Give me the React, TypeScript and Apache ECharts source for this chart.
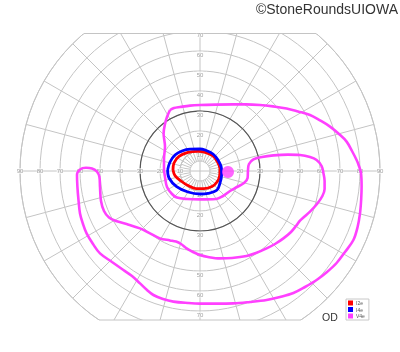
import React, { useEffect, useRef } from "react";
import * as echarts from "echarts";

// Isopters, in degrees of visual field: [x (temporal +), y (superior +)]
const I2E: [number, number][] = [
  [-13.5, 0.5], [-13, 4], [-10.5, 7.3], [-6, 9.3], [-1, 9.8], [3, 9.2], [6.5, 7.5], [8.8, 4.5],
  [10, 1], [9.8, -2.5], [8.5, -5.5], [6, -7.8], [2, -8.8], [-2, -8.8], [-6, -7.3], [-9.5, -5],
  [-12.5, -2.3], [-13.5, 0.5],
];
const I4E: [number, number][] = [
  [-16.2, 0.5], [-15, 4.5], [-12.5, 8], [-9, 10], [-5, 10.9], [0, 11], [2.5, 10.5], [6.5, 8.5],
  [9, 5.5], [10.7, 1.5], [10.8, -2], [10, -6], [8.5, -9.5], [4, -11.2], [0, -11.5], [-6, -10.5],
  [-11.7, -7.8], [-15.5, -3.5], [-16.2, 0.5],
];
const V4E: [number, number][] = [
  [-15, 30.5], [-16.5, 27], [-17.5, 23.5], [-18.2, 18.8], [-17.5, 12.2], [-18, 6], [-18, 1], [-17.5, -3],
  [-16.5, -8], [-14, -11.5], [-11.5, -13.3], [-6.5, -14], [0, -14.2], [8, -14], [11.5, -12.5], [15, -10],
  [18.5, -8], [22, -6], [23.8, -3.5], [24, 0.5], [24.5, 3.5], [26.7, 5.8], [31, 7], [36.7, 7.8],
  [44, 8.2], [50, 8], [55, 7], [58.3, 5.5], [60.8, 2.5], [61.7, -1], [62.3, -5], [62.3, -9],
  [61.2, -12.5], [58.5, -16.5], [55, -20.3], [52, -23], [50, -24.8], [48, -27.5], [45.5, -30.5],
  [41.7, -33.7], [37.5, -36.5], [33.3, -38.7], [28, -41], [23.3, -42.5], [16, -43.5], [10, -43.7],
  [4, -43], [0, -42], [-3.5, -40.5], [-6.7, -38.7], [-9.5, -36.5], [-12, -35.3], [-15, -34.7],
  [-20, -33.7], [-25, -31.2], [-30, -28.7], [-36.7, -26.5], [-42, -25], [-45.5, -23.3], [-48, -20],
  [-49.5, -15], [-50, -8], [-50.3, -3], [-51.5, -0.3], [-54, 1.2], [-57, 1.6], [-60, 0.8], [-61.5, -2],
  [-61.3, -7.8], [-60.8, -14], [-60, -21.2], [-58.5, -26.5], [-56.7, -31.2], [-53.5, -36.5], [-50, -41.2],
  [-44, -45.5], [-38.3, -49.5], [-34, -52.5], [-30, -56.2], [-26.5, -59.5], [-23.3, -62], [-18.5, -64],
  [-13.3, -65.3], [-6, -66], [0, -66.3], [8, -66.3], [16.7, -66.2], [25, -65.5], [33.3, -64.5],
  [40, -63], [46.7, -61], [52.5, -58], [58.3, -54.5], [63.5, -50.5], [68.3, -46], [72.5, -40.5],
  [76.7, -34.5], [78.8, -28], [80, -21.2], [80.6, -14], [80.8, -7.8], [80.5, -1], [79.3, 3], [78.3, 5.5],
  [76, 10], [73.3, 14.7], [69.5, 18.5], [65, 22.2], [60, 25.3], [55, 28], [49, 29.8], [43.3, 31.3],
  [36.5, 32.3], [30, 33], [23, 33.3], [16.7, 33.3], [8, 33.2], [0, 33], [-5, 32.7], [-10, 32],
  [-13, 31.5], [-15, 30.5],
];
const BLIND_SPOT: [number, number][] = [[14, -0.5]];

const SERIES_NAMES = ["I2e", "I4e", "V4e"];
const COLORS = ["#ff0000", "#0000ff", "#ff40ff"];
// Eccentricity labels along the horizontal and vertical meridians
const X_TICKS = [10, 20, 30, 40, 50, 60, 70, 80, 90];
const Y_TICKS = [10, 20, 30, 40, 50, 60, 70];

const CX = 200;
const CY = 171;
const R = 180; // px for 90 degrees
const PX_PER_DEG = R / 90;
const Y_EXT = 85; // vertical extent of the cartesian overlay, degrees
const TOP_CLIP = 33.5;
const BOTTOM_CLIP = 320;

export default function App() {
  const ref = useRef<HTMLDivElement>(null);
  useEffect(() => {
    if (!ref.current) return;
    const chart = echarts.init(ref.current, null, { renderer: "svg" });
    const grey = "#c4c4c4";
    const font = "Liberation Sans";
    const hwTop = Math.sqrt(R * R - (CY - TOP_CLIP) ** 2);
    const hwBot = Math.sqrt(R * R - (BOTTOM_CLIP - CY) ** 2);
    const noAxis = { axisLine: { show: false }, axisTick: { show: false }, axisLabel: { show: false } };
    const lineSeries = (name: string, data: [number, number][], color: string, width: number) => ({
      type: "line",
      name,
      data,
      smooth: 0.35,
      symbol: "none",
      lineStyle: { color, width },
      itemStyle: { color },
      z: 3,
    });
    const tickLabel = {
      show: true,
      fontSize: 6,
      color: "#8a8a8a",
      fontFamily: font,
      backgroundColor: "rgba(255,255,255,0.75)",
      formatter: (p: any) => String(Math.abs(p.value[0] || p.value[1])),
    };
    const xTickData = [...X_TICKS.map((t) => [-t, 0]), ...X_TICKS.map((t) => [t, 0])];
    const yTickData = [...Y_TICKS.map((t) => [0, t]), ...Y_TICKS.map((t) => [0, -t])];
    chart.setOption({
      animation: false,
      polar: [
        { center: [CX, CY], radius: [20, R] },
        { center: [CX, CY], radius: [10, 20] },
        { center: [CX, CY], radius: 60 },
        { center: [CX, CY], radius: 10 },
      ],
      angleAxis: [
        {
          polarIndex: 0, type: "value", min: 0, max: 360, interval: 15, startAngle: 0,
          axisLine: { show: true, lineStyle: { color: grey, width: 1 } },
          axisTick: { show: false }, axisLabel: { show: false },
          splitLine: { show: true, lineStyle: { color: grey, width: 1 } },
        },
        {
          polarIndex: 1, type: "value", min: 0, max: 360, interval: 10, startAngle: 0,
          axisLine: { show: true, lineStyle: { color: grey, width: 1 } },
          axisTick: { show: false }, axisLabel: { show: false },
          splitLine: { show: true, lineStyle: { color: grey, width: 1 } },
        },
        {
          polarIndex: 2, type: "value", min: 0, max: 360, interval: 90, startAngle: 0,
          axisLine: { show: true, lineStyle: { color: "#555", width: 1.2 } },
          axisTick: { show: false }, axisLabel: { show: false },
          splitLine: { show: false },
        },
        {
          polarIndex: 3, type: "value", min: 0, max: 360, interval: 90, startAngle: 0,
          axisLine: { show: false },
          axisTick: { show: false }, axisLabel: { show: false },
          splitLine: { show: true, lineStyle: { color: grey, width: 1 } },
        },
      ],
      radiusAxis: [
        {
          polarIndex: 0, type: "value", min: 10, max: 90, interval: 10, ...noAxis,
          splitLine: { show: true, lineStyle: { color: grey, width: 1 } },
        },
        { polarIndex: 1, type: "value", min: 0, max: 1, ...noAxis, splitLine: { show: false } },
        { polarIndex: 2, type: "value", min: 0, max: 1, ...noAxis, splitLine: { show: false } },
        { polarIndex: 3, type: "value", min: 0, max: 1, ...noAxis, splitLine: { show: false } },
      ],
      grid: {
        left: CX - R,
        top: CY - Y_EXT * PX_PER_DEG,
        width: 2 * R,
        height: 2 * Y_EXT * PX_PER_DEG,
        show: false,
      },
      xAxis: { type: "value", min: -90, max: 90, ...noAxis, splitLine: { show: false } },
      yAxis: { type: "value", min: -Y_EXT, max: Y_EXT, ...noAxis, splitLine: { show: false } },
      legend: {
        data: SERIES_NAMES.map((n) => ({ name: n, icon: "rect" })),
        orient: "vertical",
        left: 346,
        top: 299,
        itemWidth: 5,
        itemHeight: 5,
        itemGap: 1.5,
        padding: [1.5, 4, 1.5, 2],
        borderColor: "#c8c8c8",
        borderWidth: 1,
        textStyle: { fontSize: 5, color: "#555", fontFamily: font, padding: [0, 0, 0, -2] },
        selectedMode: false,
      },
      graphic: [
        { type: "rect", z: 1, shape: { x: 0, y: 0, width: 400, height: TOP_CLIP }, style: { fill: "#fff" } },
        { type: "rect", z: 1, shape: { x: 0, y: BOTTOM_CLIP, width: 400, height: 352 - BOTTOM_CLIP }, style: { fill: "#fff" } },
        { type: "line", z: 2, shape: { x1: CX - hwTop, y1: TOP_CLIP, x2: CX + hwTop, y2: TOP_CLIP }, style: { stroke: grey, lineWidth: 1 } },
        { type: "line", z: 2, shape: { x1: CX - hwBot, y1: BOTTOM_CLIP, x2: CX + hwBot, y2: BOTTOM_CLIP }, style: { stroke: grey, lineWidth: 1 } },
        {
          type: "text", z: 6, x: 398, y: 9,
          style: { text: "©StoneRoundsUIOWA", fontSize: 14, fontFamily: font, fill: "#333", align: "right", verticalAlign: "middle" },
        },
        {
          type: "text", z: 6, x: 322, y: 317,
          style: { text: "OD", fontSize: 10.5, fontFamily: font, fill: "#333", align: "left", verticalAlign: "middle" },
        },
      ],
      series: [
        {
          type: "scatter", name: "xticks", data: xTickData, symbol: "circle", symbolSize: 1,
          itemStyle: { color: "rgba(0,0,0,0)" }, z: 2, silent: true,
          label: { ...tickLabel, position: "inside" },
        },
        {
          type: "scatter", name: "yticks", data: yTickData, symbol: "circle", symbolSize: 1,
          itemStyle: { color: "rgba(0,0,0,0)" }, z: 2, silent: true,
          label: { ...tickLabel, position: "bottom", distance: 0 },
        },
        lineSeries("I2e", I2E, COLORS[0], 2.8),
        lineSeries("I4e", I4E, COLORS[1], 2.8),
        lineSeries("V4e", V4E, COLORS[2], 2.6),
        {
          type: "scatter", name: "V4e", data: BLIND_SPOT, symbol: "circle", symbolSize: 12,
          itemStyle: { color: COLORS[2] }, z: 3,
        },
      ],
    });
    return () => chart.dispose();
  }, []);
  return <div ref={ref} style={{ position: "fixed", left: 0, top: 0, width: 400, height: 352 }} />;
}
